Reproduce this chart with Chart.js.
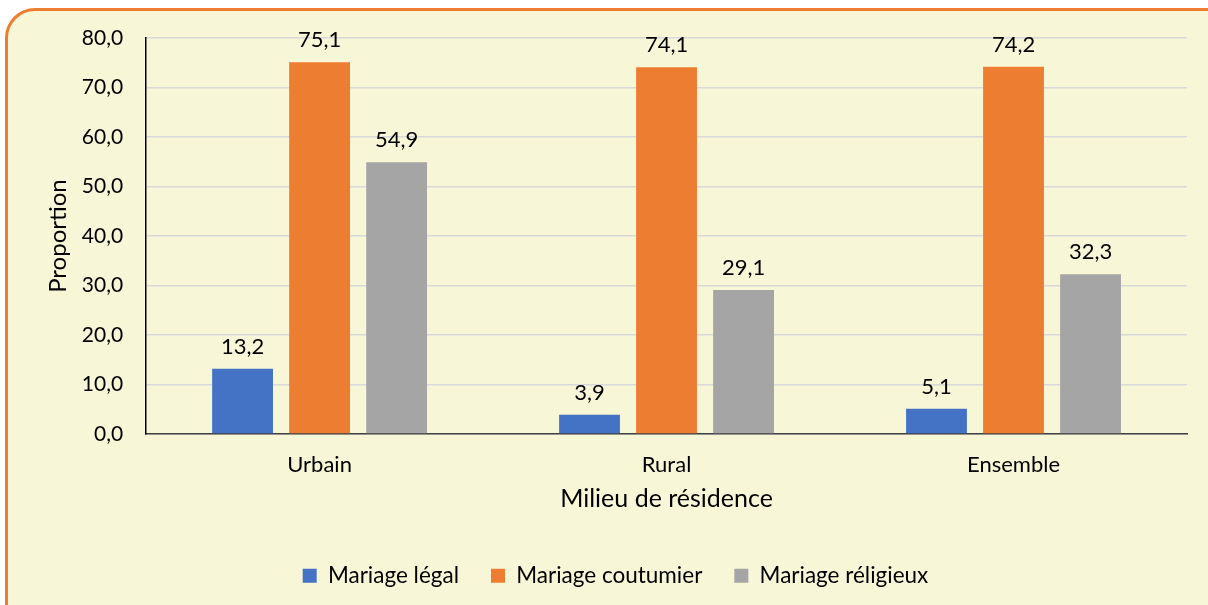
<!DOCTYPE html>
<html>
<head>
<meta charset="utf-8">
<script src="https://cdn.jsdelivr.net/npm/chart.js@4"></script>
<style>
  html, body { margin: 0; padding: 0; background: #fff; overflow: hidden; }
  #frame {
    position: absolute; left: 5px; top: 8px; width: 1240px; height: 640px;
    border: 3px solid #ED7D31; border-radius: 30px; background: #F7F7D7;
    box-sizing: border-box;
  }
  #wrap { position: absolute; left: 0; top: 0; width: 1208px; height: 605px; }
</style>
</head>
<body>
<div id="frame"></div>
<div id="wrap"><canvas id="chart" width="1208" height="605"></canvas></div>
<script>
const categories = ['Urbain', 'Rural', 'Ensemble'];
const seriesNames = ['Mariage légal', 'Mariage coutumier', 'Mariage réligieux'];
const legalValues = [13.2, 3.9, 5.1];
const coutumierValues = [75.1, 74.1, 74.2];
const religieuxValues = [54.9, 29.1, 32.3];
const seriesColors = ['#4472C4', '#ED7D31', '#A5A5A5'];

const fontFamily = 'Lato, "Liberation Sans", sans-serif';
const fmt = v => v.toFixed(1).replace('.', ',');

// value labels above each bar
const barLabels = {
    id: 'barLabels',
    afterDatasetsDraw(chart) {
        const ctx = chart.ctx;
        ctx.save();
        ctx.font = '22px ' + fontFamily;
        ctx.fillStyle = '#000';
        ctx.textAlign = 'center';
        ctx.textBaseline = 'middle';
        chart.data.datasets.forEach((ds, i) => {
            chart.getDatasetMeta(i).data.forEach((bar, j) => {
                ctx.fillText(fmt(ds.data[j]), bar.x, bar.y - 22);
            });
        });
        ctx.restore();
    }
};

new Chart(document.getElementById('chart'), {
    type: 'bar',
    data: {
        labels: categories,
        datasets: [
            { label: seriesNames[0], data: legalValues, backgroundColor: seriesColors[0] },
            { label: seriesNames[1], data: coutumierValues, backgroundColor: seriesColors[1] },
            { label: seriesNames[2], data: religieuxValues, backgroundColor: seriesColors[2] }
        ]
    },
    options: {
        responsive: false,
        animation: false,
        layout: { padding: { left: 44, right: 21, top: 38, bottom: 8 } },
        datasets: { bar: { categoryPercentage: 0.666, barPercentage: 0.79 } },
        scales: {
            x: {
                grid: { display: false },
                border: { color: '#404040', width: 1.5 },
                ticks: { color: '#000', font: { family: fontFamily, size: 22 }, padding: 10 },
                title: { display: true, text: 'Milieu de résidence', color: '#000',
                         font: { family: fontFamily, size: 25 }, padding: { top: -5, bottom: 19 } }
            },
            y: {
                min: 0, max: 80,
                ticks: { stepSize: 10, color: '#000', font: { family: fontFamily, size: 21 },
                         padding: 23, callback: v => fmt(v) },
                grid: { color: '#D9D9D9', lineWidth: 1.5, drawTicks: false },
                border: { color: '#000', width: 1.5 },
                title: { display: true, text: 'Proportion', color: '#000',
                         font: { family: fontFamily, size: 24 }, padding: { top: 0, bottom: -14 } }
            }
        },
        plugins: {
            legend: {
                position: 'bottom',
                labels: { boxWidth: 14, boxHeight: 14, color: '#000',
                          font: { family: fontFamily, size: 22.5 }, padding: 32 }
            },
            tooltip: { enabled: false }
        }
    },
    plugins: [barLabels]
});
</script>
</body>
</html>
